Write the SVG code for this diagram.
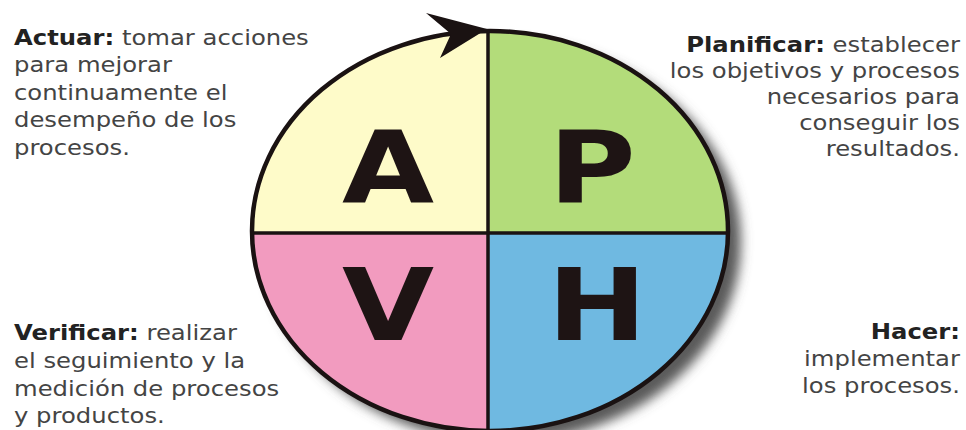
<svg xmlns="http://www.w3.org/2000/svg" width="966" height="430" viewBox="0 0 966 430">
<defs>
<style>
.txt{font-family:"DejaVu Sans","Verdana",sans-serif;font-size:21.5px;fill:#444}
.b{font-weight:bold;fill:#222}
.big{font-family:"DejaVu Sans","Verdana",sans-serif;font-weight:bold;font-size:100px;fill:#1e1414;text-anchor:middle}
.div{stroke:#1a1212;stroke-width:3.5}
</style>
<clipPath id="clip"><ellipse cx="490" cy="231" rx="238" ry="200"/></clipPath>
<filter id="blur" x="-20%" y="-20%" width="140%" height="140%"><feGaussianBlur stdDeviation="6"/></filter>
</defs>
<rect width="966" height="430" fill="#fff"/>
<ellipse cx="503" cy="242" rx="238" ry="200" fill="#5a5a5a" filter="url(#blur)"/>
<g id="actuar">
<rect x="250" y="28" width="238" height="205" fill="#fefbc9" clip-path="url(#clip)"/>
<text class="big" transform="matrix(1.19 0 0 1 388 202)" x="0" y="0">A</text>
<text class="txt" transform="matrix(1.13 0 0 1 14 0)"><tspan x="0" y="45"><tspan class="b">Actuar:</tspan> tomar acciones</tspan><tspan x="0" y="72">para mejorar</tspan><tspan x="0" y="100">continuamente el</tspan><tspan x="0" y="127">desempeño de los</tspan><tspan x="0" y="155">procesos.</tspan></text>
</g>
<g id="planificar">
<rect x="488" y="28" width="242" height="205" fill="#b3dc7a" clip-path="url(#clip)"/>
<text class="big" transform="matrix(1.19 0 0 1 592 202)" x="0" y="0">P</text>
<text class="txt" text-anchor="end" transform="matrix(1.13 0 0 1 960 0)"><tspan x="0" y="52"><tspan class="b">Planificar:</tspan> establecer</tspan><tspan x="0" y="78">los objetivos y procesos</tspan><tspan x="0" y="104">necesarios para</tspan><tspan x="0" y="130">conseguir los</tspan><tspan x="0" y="156">resultados.</tspan></text>
</g>
<g id="verificar">
<rect x="250" y="233" width="238" height="205" fill="#f29bbf" clip-path="url(#clip)"/>
<text class="big" transform="matrix(1.19 0 0 1 388 340)" x="0" y="0">V</text>
<text class="txt" transform="matrix(1.13 0 0 1 14 0)"><tspan x="0" y="340"><tspan class="b">Verificar:</tspan> realizar</tspan><tspan x="0" y="368">el seguimiento y la</tspan><tspan x="0" y="396">medición de procesos</tspan><tspan x="0" y="423">y productos.</tspan></text>
</g>
<g id="hacer">
<rect x="488" y="233" width="242" height="205" fill="#6fb9e1" clip-path="url(#clip)"/>
<text class="big" transform="matrix(1.19 0 0 1 597 340)" x="0" y="0">H</text>
<text class="txt" text-anchor="end" transform="matrix(1.13 0 0 1 960 0)"><tspan x="0" y="339" class="b">Hacer:</tspan><tspan x="0" y="366">implementar</tspan><tspan x="0" y="393">los procesos.</tspan></text>
</g>
<g id="outline">
<line class="div" x1="488" y1="30" x2="488" y2="432"/>
<line class="div" x1="252" y1="233" x2="728" y2="233"/>
<ellipse cx="490" cy="231" rx="238" ry="200" fill="none" stroke="#1a1212" stroke-width="4.5"/>
</g>
<g id="connectors">
<polygon points="426,13 487,29 440,58 451,34" fill="#1a1212"/>
</g>
</svg>
